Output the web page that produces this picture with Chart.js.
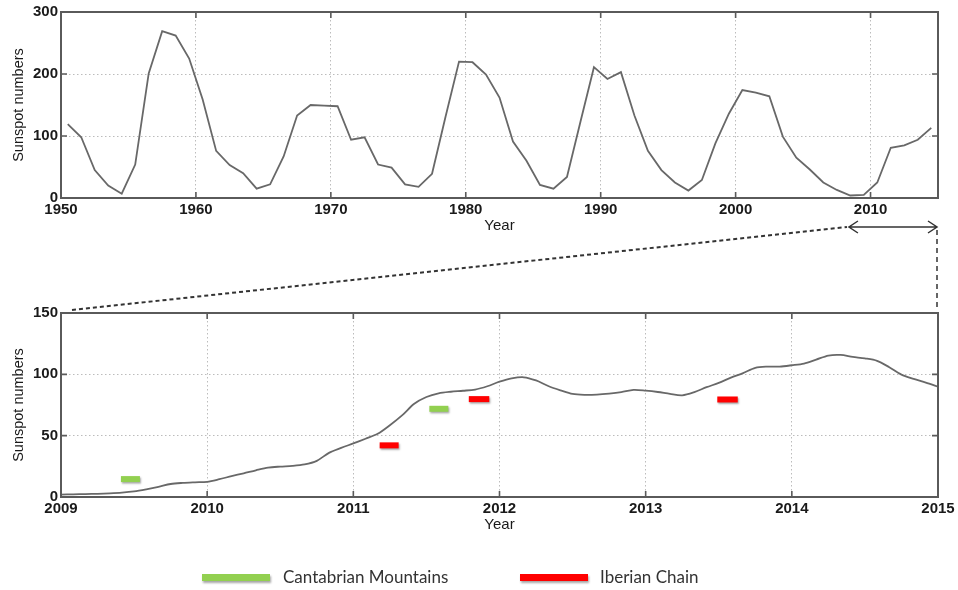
<!DOCTYPE html>
<html>
<head>
<meta charset="utf-8">
<script src="https://cdn.jsdelivr.net/npm/chart.js@4"></script>
<style>
html,body{margin:0;padding:0;background:#fff;width:958px;height:590px;overflow:hidden;}
canvas{position:absolute;left:0;}
#topChart{top:0;}
#bottomChart{top:290px;}
#overlay{top:0;pointer-events:none;}
.lgbar{position:absolute;height:7px;box-shadow:1px 1.5px 2px rgba(0,0,0,0.35);}
.lgtext{position:absolute;font-family:Lato,"Open Sans",sans-serif;font-size:17px;color:#333;line-height:20px;white-space:nowrap;}
</style>
</head>
<body>
<canvas id="topChart" width="958" height="240"></canvas>
<canvas id="bottomChart" width="958" height="250"></canvas>
<canvas id="overlay" width="958" height="590"></canvas>
<div id="legend"></div>
<script>
// ---------- DATA ----------
const annualYears = [1950,1951,1952,1953,1954,1955,1956,1957,1958,1959,
  1960,1961,1962,1963,1964,1965,1966,1967,1968,1969,
  1970,1971,1972,1973,1974,1975,1976,1977,1978,1979,
  1980,1981,1982,1983,1984,1985,1986,1987,1988,1989,
  1990,1991,1992,1993,1994,1995,1996,1997,1998,1999,
  2000,2001,2002,2003,2004,2005,2006,2007,2008,2009,
  2010,2011,2012,2013,2014];
const annualSunspots = [119,98,45,20,7,54,201,269,262,225,
  159,76,53,40,15,22,67,133,150,149,
  148,94,98,54,49,22,18,39,131,220,
  219,199,162,91,60,21,15,34,123,211,
  192,203,133,76,45,25,12,29,88,136,
  174,170,164,99,65,46,25,13,4,5,
  25,81,85,94,113];

const monthlyStartYear = 2009;
const monthlySunspots = [
  2.0,2.2,2.4,2.6,3.0,3.6,4.6,6.3,8.3,10.6,11.5,12.0,
  12.4,14.5,17.0,19.3,21.8,24.0,24.8,25.3,26.5,29.5,36.0,40.0,
  43.7,47.5,51.5,58.5,66.5,76.0,81.5,84.5,85.8,86.6,87.6,90.3,
  94.0,96.7,97.6,95.0,90.5,87.0,84.0,83.3,83.5,84.3,85.5,87.3,
  86.7,85.6,84.0,82.9,85.5,89.5,93.0,97.3,101.0,105.3,106.3,106.3,
  107.4,108.8,112.0,115.3,115.8,114.2,113.0,111.0,105.8,99.8,96.3,93.3,
  90.0];

const cantabrianPeriods = [[2009.41,2009.54],[2011.52,2011.65]];
const cantabrianValues = [14.6,71.9];
const iberianPeriods = [[2011.18,2011.31],[2011.79,2011.93],[2013.49,2013.63]];
const iberianValues = [42.1,79.8,79.5];

const topXTicks = [1950,1960,1970,1980,1990,2000,2010];
const topYTicks = [0,100,200,300];
const bottomXTicks = [2009,2010,2011,2012,2013,2014,2015];
const bottomYTicks = [0,50,100,150];
const legendLabels = ['Cantabrian Mountains','Iberian Chain'];
const axisTitleX = 'Year';
const axisTitleY = 'Sunspot numbers';

// ---------- STYLE ----------
const GREEN = '#92d050';
const RED = '#ff0000';
const LINE = '#686868';
const FRAME = '#5a5a5a';
const TICKFONT = {family:'"Liberation Sans", Arial, sans-serif', size:15, weight:'bold'};

const framePlugin = {
  id:'frame',
  beforeDatasetDraw(chart,args){
    const ds = chart.data.datasets[args.index];
    if(ds.shadow){
      chart.ctx.save();
      chart.ctx.shadowColor='rgba(0,0,0,0.35)';
      chart.ctx.shadowOffsetX=1;chart.ctx.shadowOffsetY=1.5;chart.ctx.shadowBlur=2;
    }
  },
  afterDatasetDraw(chart,args){
    const ds = chart.data.datasets[args.index];
    if(ds.shadow) chart.ctx.restore();
  },
  afterDatasetsDraw(chart){
    const {ctx, chartArea:a, scales:{x,y}} = chart;
    ctx.save();
    ctx.strokeStyle = FRAME;
    ctx.lineWidth = 1.6;
    const L = 6;
    ctx.beginPath();
    x.ticks.forEach(t=>{const p=x.getPixelForValue(t.value);ctx.moveTo(p,a.bottom);ctx.lineTo(p,a.bottom-L);ctx.moveTo(p,a.top);ctx.lineTo(p,a.top+L);});
    y.ticks.forEach(t=>{const p=y.getPixelForValue(t.value);ctx.moveTo(a.left,p);ctx.lineTo(a.left+L,p);ctx.moveTo(a.right,p);ctx.lineTo(a.right-L,p);});
    ctx.stroke();
    ctx.lineWidth = 2;
    ctx.strokeRect(a.left,a.top,a.width,a.height);
    ctx.restore();
  }
};

function makeScales(xmin,xmax,xticks,ymin,ymax,yticks,xh,xTitlePad){
  return {
    x:{type:'linear',min:xmin,max:xmax,
      afterBuildTicks:s=>{s.ticks=xticks.map(v=>({value:v}));},
      afterFit:s=>{s.height=xh;},
      grid:{color:'#bcbcbc',lineWidth:1,drawTicks:false},
      border:{display:false,dash:[1.5,2.5]},
      ticks:{padding:3,color:'#1a1a1a',font:TICKFONT,maxRotation:0,autoSkip:false,callback:v=>String(v)},
      title:{display:true,text:axisTitleX,color:'#1a1a1a',font:{family:'"Liberation Sans Narrow", "Liberation Sans", Arial, sans-serif',size:15},padding:{top:0,bottom:xTitlePad}}
    },
    y:{type:'linear',min:ymin,max:ymax,
      afterBuildTicks:s=>{s.ticks=yticks.map(v=>({value:v}));},
      afterFit:s=>{s.width=61;},
      grid:{color:'#bcbcbc',lineWidth:1,drawTicks:false},
      border:{display:false,dash:[1.5,2.5]},
      ticks:{padding:3,color:'#1a1a1a',font:TICKFONT,callback:v=>String(v)},
      title:{display:true,text:axisTitleY,color:'#1a1a1a',font:{family:'"Liberation Sans", Arial, sans-serif',size:14.5},padding:{top:10,bottom:0}}
    }
  };
}

const commonOpts = {
  responsive:false, animation:false,
  plugins:{legend:{display:false},tooltip:{enabled:false}},
  elements:{point:{radius:0}}
};

// ---------- TOP CHART ----------
const topChart = new Chart(document.getElementById('topChart'),{
  type:'line',
  data:{datasets:[{
    data:annualYears.map((yr,i)=>({x:yr+0.5,y:annualSunspots[i]})),
    borderColor:LINE,borderWidth:1.8,tension:0,fill:false
  }]},
  options:Object.assign({},commonOpts,{
    layout:{padding:{top:12,right:20,left:0,bottom:0}},
    scales:makeScales(1950,2015,topXTicks,0,300,topYTicks,42,5)
  }),
  plugins:[framePlugin]
});

// ---------- BOTTOM CHART ----------
const bottomDatasets = [{
  data:monthlySunspots.map((v,i)=>({x:monthlyStartYear+i/12,y:v})),
  borderColor:LINE,borderWidth:1.8,tension:0.3,fill:false
}];
cantabrianPeriods.forEach((p,i)=>bottomDatasets.push({
  data:[{x:p[0],y:cantabrianValues[i]},{x:p[1],y:cantabrianValues[i]}],
  borderColor:GREEN,borderWidth:6,borderCapStyle:'butt',shadow:true
}));
iberianPeriods.forEach((p,i)=>bottomDatasets.push({
  data:[{x:p[0],y:iberianValues[i]},{x:p[1],y:iberianValues[i]}],
  borderColor:RED,borderWidth:6,borderCapStyle:'butt',shadow:true
}));

const bottomChart = new Chart(document.getElementById('bottomChart'),{
  type:'line',
  data:{datasets:bottomDatasets},
  options:Object.assign({},commonOpts,{
    layout:{padding:{top:23,right:20,left:0,bottom:0}},
    scales:makeScales(2009,2015,bottomXTicks,0,150,bottomYTicks,43,6)
  }),
  plugins:[framePlugin]
});

// ---------- ZOOM CONNECTORS ----------
function drawOverlay(){
  const c = document.getElementById('overlay');
  const ctx = c.getContext('2d');
  ctx.clearRect(0,0,c.width,c.height);
  const tx = topChart.scales.x;
  const ta = topChart.chartArea;
  const ba = bottomChart.chartArea;
  const bTop = 290 + ba.top;
  const arrowY = ta.bottom + 29;
  const xL = tx.getPixelForValue(2008.4);
  const xR = tx.getPixelForValue(2015) - 1;
  ctx.strokeStyle = '#333';
  ctx.lineWidth = 2;
  ctx.setLineDash([4,3]);
  ctx.beginPath();
  ctx.moveTo(ba.left+11, bTop-3);
  ctx.lineTo(xL-2, arrowY);
  ctx.stroke();
  ctx.lineWidth = 1.5;
  ctx.setLineDash([5,4]);
  ctx.beginPath();
  ctx.moveTo(xR, arrowY+3);
  ctx.lineTo(xR, bTop-2);
  ctx.stroke();
  ctx.setLineDash([]);
  ctx.lineWidth = 1.5;
  ctx.beginPath();
  ctx.moveTo(xL, arrowY); ctx.lineTo(xR, arrowY);
  ctx.moveTo(xL+9, arrowY-6); ctx.lineTo(xL, arrowY); ctx.lineTo(xL+9, arrowY+6);
  ctx.moveTo(xR-9, arrowY-6); ctx.lineTo(xR, arrowY); ctx.lineTo(xR-9, arrowY+6);
  ctx.stroke();
}
drawOverlay();

// ---------- LEGEND ----------
const legendColors = [GREEN, RED];
const legendPos = [{bar:202,text:283},{bar:520,text:600}];
const lg = document.getElementById('legend');
legendLabels.forEach((lab,i)=>{
  const b = document.createElement('div');
  b.className='lgbar';
  b.style.left=legendPos[i].bar+'px'; b.style.top='574px'; b.style.width='68px';
  b.style.background=legendColors[i];
  lg.appendChild(b);
  const t = document.createElement('div');
  t.className='lgtext';
  t.style.left=legendPos[i].text+'px'; t.style.top='567px';
  t.textContent=lab;
  lg.appendChild(t);
});
</script>
</body>
</html>
